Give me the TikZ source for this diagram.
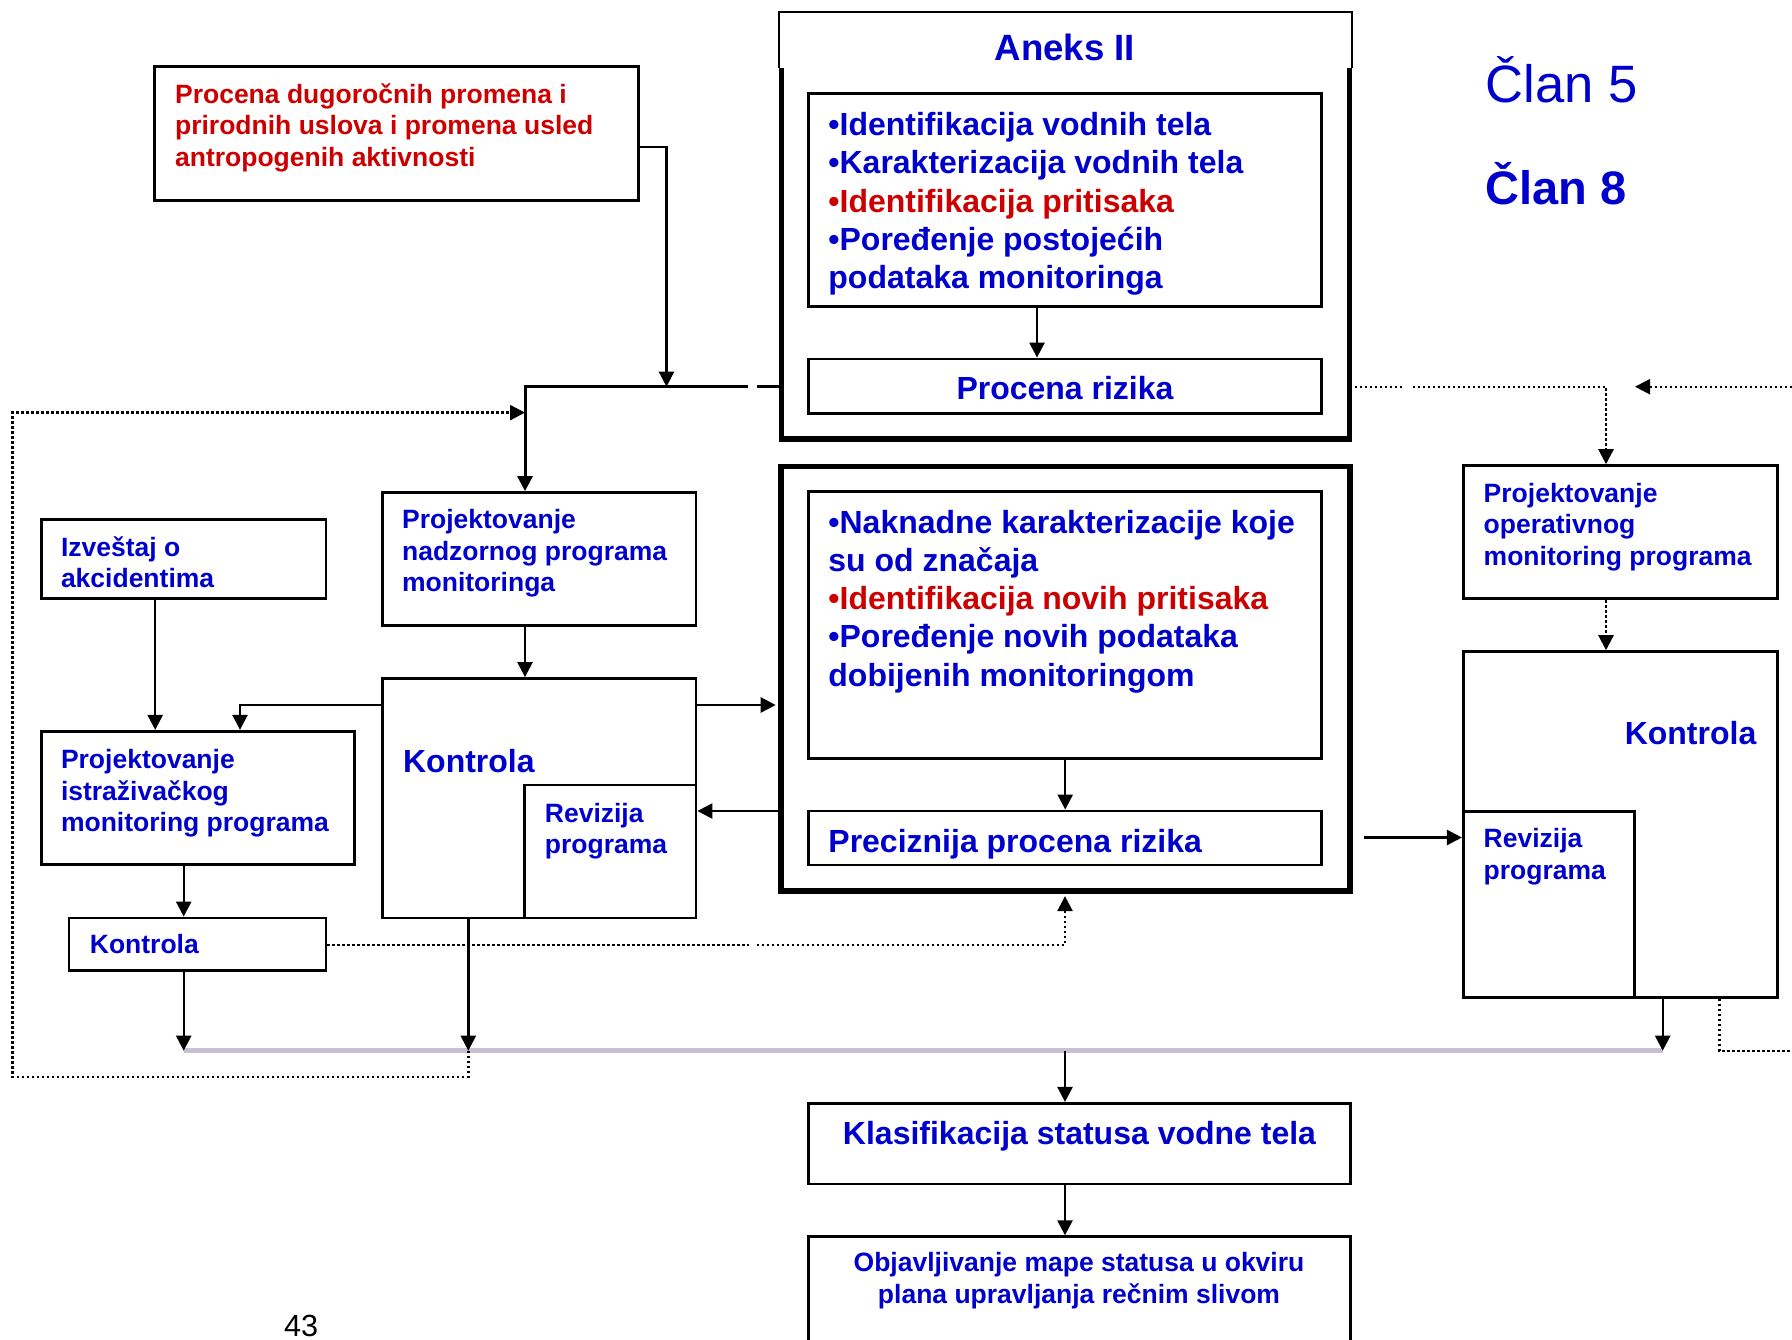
\documentclass[tikz,border=0pt]{standalone}
\usepackage{fontspec}
\setmainfont{Liberation Sans}
\usetikzlibrary{arrows.meta,fit}
\definecolor{tblue}{RGB}{0,0,204}
\definecolor{tred}{RGB}{204,0,0}
\definecolor{barc}{RGB}{200,192,210}
\newcommand\fbig{\fontsize{16}{19.15}\selectfont}
\newcommand\fsm{\fontsize{13.25}{15.8}\selectfont}
\newcommand\rows[1]{\begin{tabular}[t]{@{}l@{}}#1\end{tabular}}
\newcommand\crows[1]{\begin{tabular}[t]{@{}c@{}}#1\end{tabular}}
\begin{document}
\begin{tikzpicture}[x=0.5pt,y=-0.5pt,
  box/.style={draw, line width=1.4pt, inner sep=0pt},
  frame/.style={draw, line width=2.7pt, inner sep=0pt},
  txt/.style={inner sep=0pt, anchor=base west, text=tblue, font=\bfseries\fsm},
  btxt/.style={txt, font=\bfseries\fbig},
  conn/.style={line width=1.2pt},
  arr/.style={conn, -{Triangle[length=7.5pt,width=7.5pt]}},
  dots/.style={line width=1.2pt, dash pattern=on 1.2pt off 1.3pt},
  darr/.style={dots, -{Triangle[length=7.5pt,width=7.5pt]}}]
\useasboundingbox (0,0) rectangle (1792,1339);
\fill[white] (0,0) rectangle (1792,1339);

% ---------- Aneks II frame (thin head, heavy body)
\draw[line width=0.6pt] (779,68) -- (779,12) -- (1352,12) -- (1352,68);
\draw[line width=2.7pt] (781.5,68) -- (781.5,439) -- (1349.5,439) -- (1349.5,68);
\node[inner sep=0pt, fit={(781.5,12) (1349.5,439)}] (aneks) {};
\node[box, fit={(808.6,93.3) (1321.8,306.7)}] (ident) {};
\node[box, fit={(808.6,359) (1321.8,413.3)}] (rizik) {};

% ---------- second heavy frame
\node[frame, fit={(781,466.5) (1350,890.8)}] (midF) {};
\node[box, fit={(808.6,491.7) (1321.8,758.3)}] (nakn) {};
\node[box, fit={(808.6,811) (1321.8,865)}] (prec) {};

% ---------- left column
\node[box, fit={(154.5,66.7) (638.8,200.5)}] (red) {};
\node[box, fit={(382.5,492.5) (696,625.5)}] (nadz) {};
\node[box, fit={(382.5,678.5) (696,918)}] (kontM) {};
\node[box, fit={(524.8,785) (696,918)}] (revM) {};
\node[box, fit={(41.3,519.3) (326,598.8)}] (izv) {};
\node[box, fit={(41.3,731.3) (354.4,864.4)}] (istr) {};
\node[box, fit={(68.9,918) (326,970.6)}] (kontS) {};

% ---------- right column
\node[box, fit={(1463.3,465.6) (1777.3,598.7)}] (oper) {};
\node[box, fit={(1463.3,651.6) (1777.3,997.3)}] (kontR) {};
\node[box, fit={(1463.3,811.3) (1634.7,997.3)}] (revR) {};

% ---------- bottom
\node[box, fit={(808.6,1103.3) (1350.5,1184)}] (klas) {};
\node[box, fit={(808.6,1236.7) (1350.5,1400)}] (objav) {};

% ---------- texts
\node[txt, anchor=base, font=\bfseries\fontsize{18.3}{22}\selectfont] (aneksT) at (1065,60) {Aneks II};
\node[btxt] (identT) at (828,135.5) {\rows{•Identifikacija vodnih tela\\•Karakterizacija vodnih tela\\{\color{tred}•Identifikacija pritisaka}\\•Poređenje postojećih\\podataka monitoringa}};
\node[btxt, anchor=base] (rizikT) at (1065,399.5) {Procena rizika};
\node[btxt] (naknT) at (828,533) {\rows{•Naknadne karakterizacije koje\\su od značaja\\{\color{tred}•Identifikacija novih pritisaka}\\•Poređenje novih podataka\\dobijenih monitoringom}};
\node[btxt] (precT) at (828,852) {Preciznija procena rizika};
\node[txt, text=tred] (redT) at (174.7,103.3) {\rows{Procena dugoročnih promena i\\prirodnih uslova i promena usled\\antropogenih aktivnosti}};
\node[txt] (nadzT) at (401.7,528.7) {\rows{Projektovanje\\nadzornog programa\\monitoringa}};
\node[btxt] (kontMT) at (402.7,772) {Kontrola};
\node[txt] (revMT) at (544.5,822) {\rows{Revizija\\programa}};
\node[txt] (izvT) at (60.6,556.3) {\rows{Izveštaj o\\akcidentima}};
\node[txt] (istrT) at (60.6,768.4) {\rows{Projektovanje\\istraživačkog\\monitoring programa}};
\node[txt] (kontST) at (89.5,953.7) {Kontrola};
\node[txt] (operT) at (1483.3,502.3) {\rows{Projektovanje\\operativnog\\monitoring programa}};
\node[btxt, anchor=base east] (kontRT) at (1756.7,744.8) {Kontrola};
\node[txt] (revRT) at (1483.3,847.6) {\rows{Revizija\\programa}};
\node[btxt, anchor=base] (klasT) at (1079.5,1144) {Klasifikacija statusa vodne tela};
\node[txt, anchor=base] (objavT) at (1079,1271.7) {\crows{Objavljivanje mape statusa u okviru\\plana upravljanja rečnim slivom}};
\node[txt, font=\fontsize{26.3}{30}\selectfont] (clan5) at (1485,102.7) {Član 5};
\node[txt, font=\bfseries\fontsize{23.5}{28}\selectfont] (clan8) at (1485,204) {Član 8};
\node[txt, text=black, font=\fontsize{15.3}{18}\selectfont] (pageno) at (283.6,1336) {43};

% ---------- named points for the connectors
\coordinate (jr) at (666.5,147);
\coordinate (jun) at (525,386.7);
\coordinate (gA) at (748,386.7);
\coordinate (gB) at (757.3,386.7);
\coordinate (lpB) at (468.3,1076.7);
\coordinate (lpC) at (12.4,1076.7);
\coordinate (lpD) at (12.4,412.6);
\coordinate (xK) at (468.3,0);
\coordinate (barL) at (183.7,1050.7);
\coordinate (barR) at (1662.7,1050.7);
\coordinate (k1) at (240,705);
\coordinate (xI) at (155.2,0);
\coordinate (xS) at (183.7,0);
\coordinate (gC) at (748.6,944.7);
\coordinate (gD) at (756.6,944.7);
\coordinate (kd) at (1065,944.7);
\coordinate (m1) at (0,705);
\coordinate (m2) at (0,811);
\coordinate (xA) at (1037,0);
\coordinate (xC) at (1065,0);
\coordinate (rg1) at (1402.7,386.7);
\coordinate (rg2) at (1412.7,386.7);
\coordinate (xO) at (1606,386.7);
\coordinate (re) at (1792,386.7);
\coordinate (rt) at (1635,386.7);
\coordinate (rs) at (1364,837.5);
\coordinate (xR) at (1662.7,0);
\coordinate (xD) at (1719.3,0);
\coordinate (rd) at (1792,1050.7);

% ---------- collecting bar
\draw[barc, line width=2.5pt] (barL) -- (barR);

% ---------- connectors, left part
\draw[arr] (red.east |- jr) -- (jr) -- (jr |- jun);
\draw[conn, line width=1.5pt] (aneks.west |- jun) -- (gB);
\draw[arr, line width=1.5pt] (gA) -- (jun) -- (jun |- nadz.north);
\draw[darr] (xK |- barL) -- (lpB) -- (lpC) -- (lpD) -- (jun |- lpD);
\draw[arr] (jun |- nadz.south) -- (jun |- kontM.north);
\draw[arr] (kontM.west |- k1) -- (k1) -- (k1 |- istr.north);
\draw[arr] (xI |- izv.south) -- (xI |- istr.north);
\draw[arr] (xS |- istr.south) -- (xS |- kontS.north);
\draw[arr] (xS |- kontS.south) -- (xS |- barL);
\draw[arr] (xK |- kontM.south) -- (xK |- barL);
\draw[dots] (kontS.east |- kd) -- (gC);
\draw[darr, shorten >=1.3pt] (gD) -- (kd) -- (kd |- midF.south);
\draw[arr, shorten >=1.3pt] (kontM.east |- m1) -- (midF.west |- m1);
\draw[arr] (midF.west |- m2) -- (revM.east |- m2);

% ---------- connectors, centre
\draw[arr] (xA |- ident.south) -- (xA |- rizik.north);
\draw[arr] (nakn.south) -- (prec.north);
\draw[arr] (xC |- barL) -- (xC |- klas.north);
\draw[arr] (xC |- klas.south) -- (xC |- objav.north);

% ---------- connectors, right part
\draw[dots] (aneks.east |- jun) -- (rg1);
\draw[darr] (rg2) -- (xO) -- (xO |- oper.north);
\draw[darr] (re) -- (rt);
\draw[darr] (xO |- oper.south) -- (xO |- kontR.north);
\draw[arr] (rs) -- (revR.west |- rs);
\draw[arr] (xR |- kontR.south) -- (xR |- barR);
\draw[dots] (xD |- kontR.south) -- (xD |- rd) -- (rd);
\end{tikzpicture}
\end{document}
